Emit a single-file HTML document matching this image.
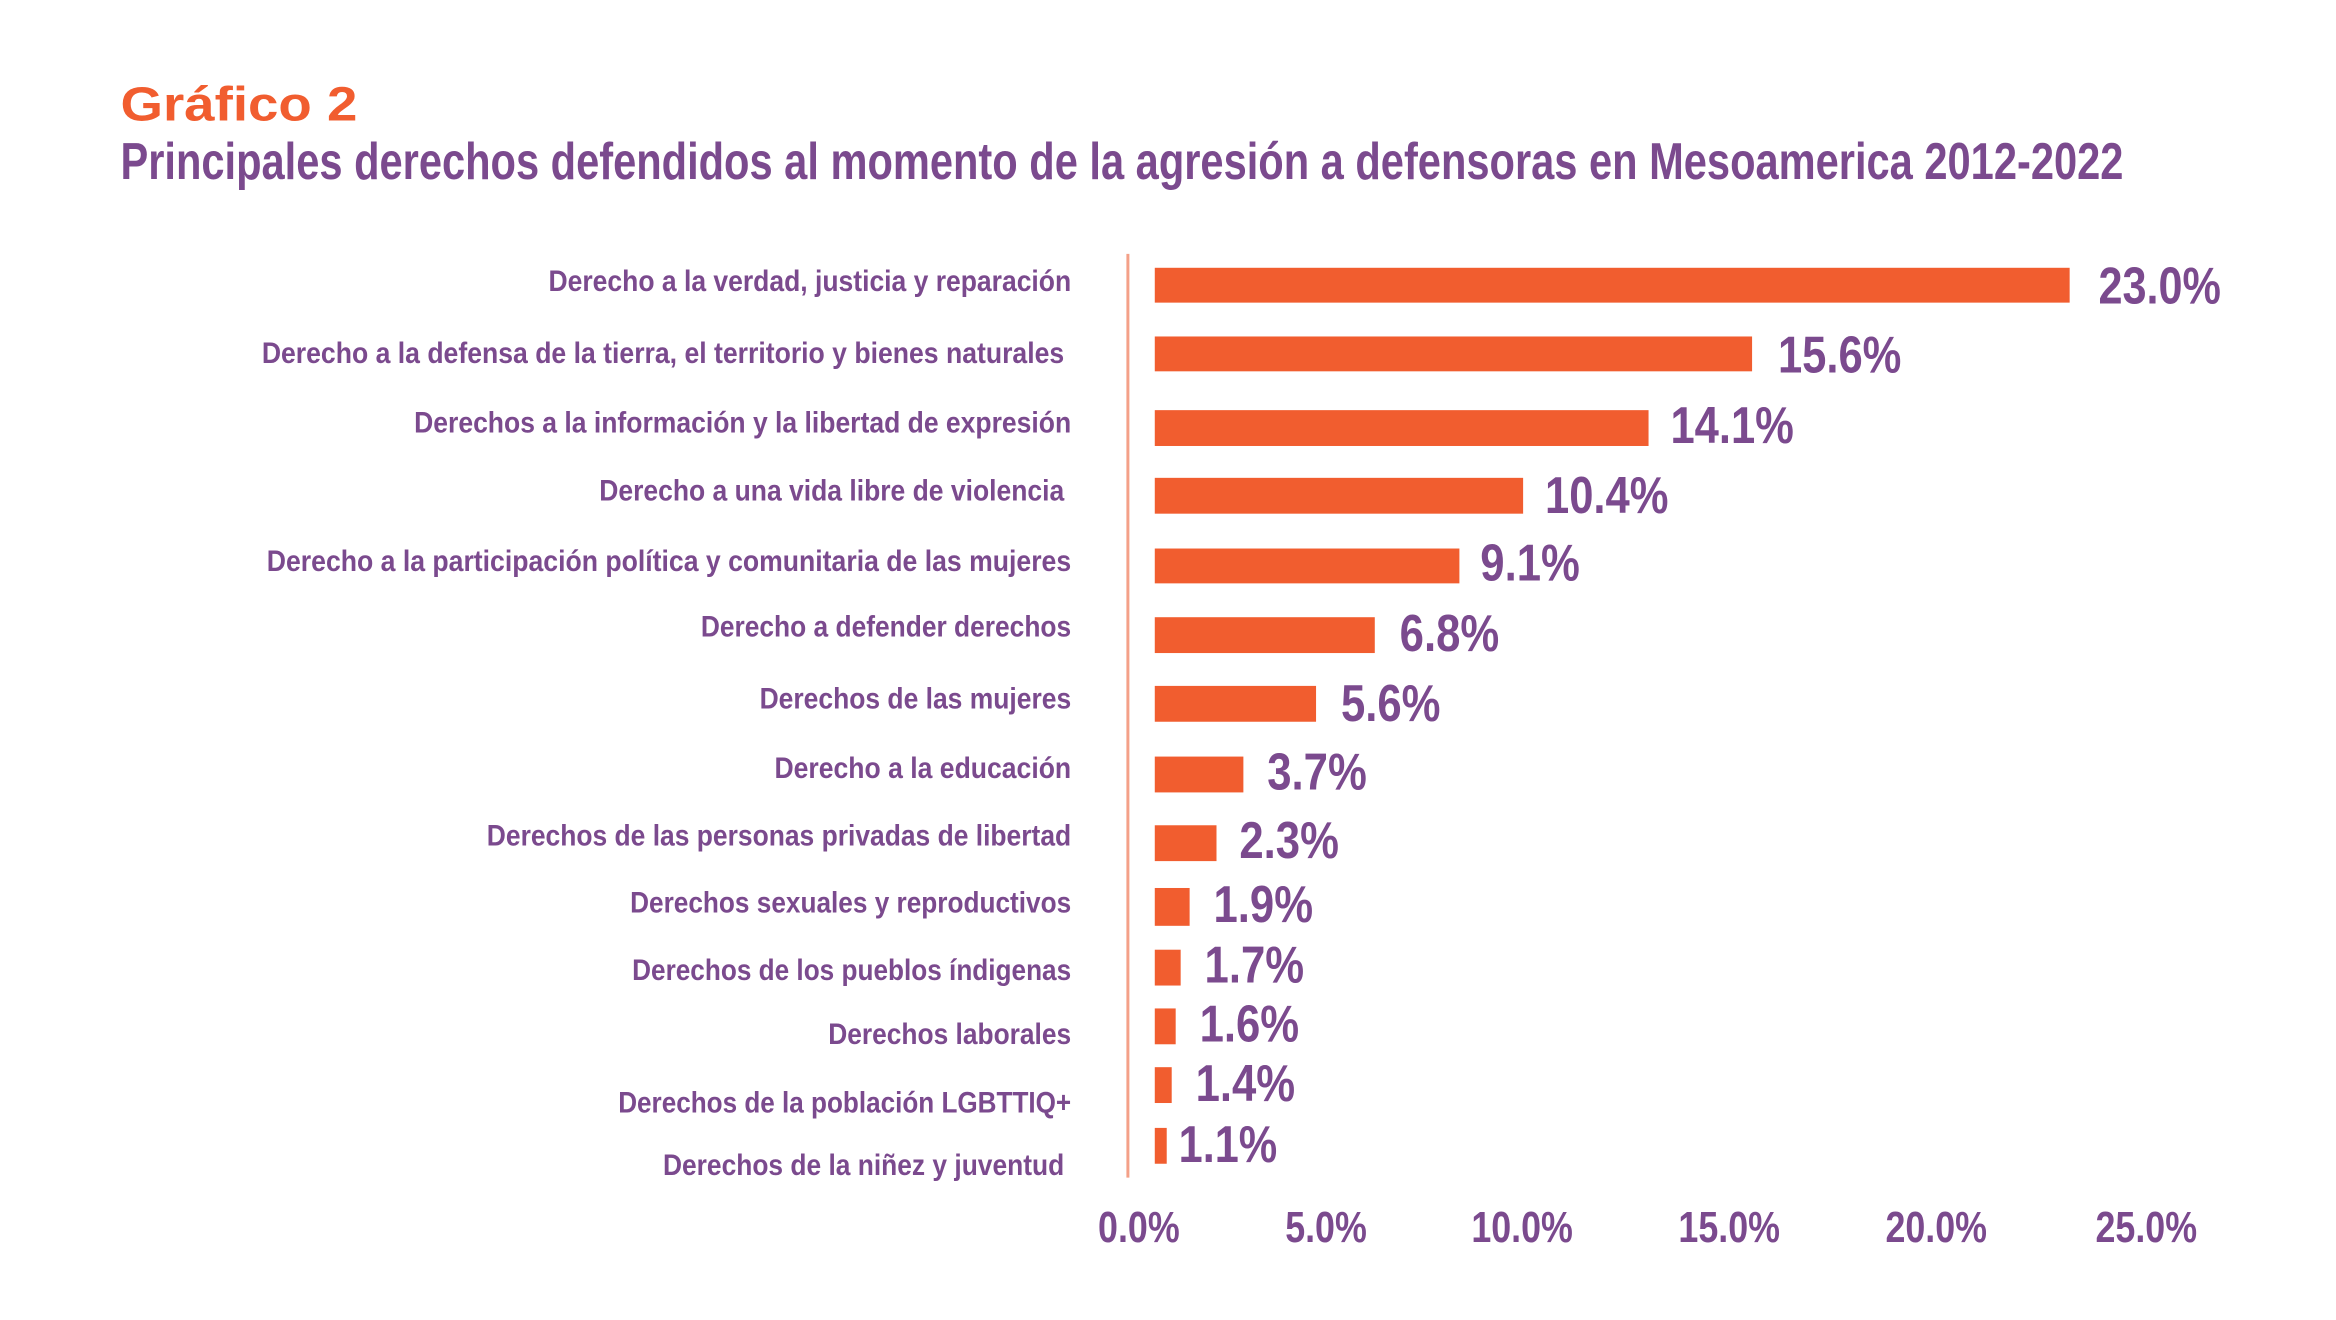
<!DOCTYPE html>
<html><head><meta charset="utf-8"><style>
html,body{margin:0;padding:0;background:#fff;}
svg{display:block;}
text{font-family:"Liberation Sans Narrow","Liberation Sans",sans-serif;font-weight:bold;}
</style></head><body>
<svg width="2336" height="1320" viewBox="0 0 2336 1320" xmlns="http://www.w3.org/2000/svg">
<rect width="2336" height="1320" fill="#fff"/>
<g transform="scale(0.9955)">
<text x="121" y="121" font-size="48" fill="#F15D2F" textLength="238" lengthAdjust="spacingAndGlyphs">Gráfico 2</text>
<text x="121" y="180" font-size="52" fill="#7B4A8E" textLength="2012" lengthAdjust="spacingAndGlyphs">Principales derechos defendidos al momento de la agresión a defensoras en Mesoamerica 2012-2022</text>
<line x1="1133" y1="255" x2="1133" y2="1183" stroke="#F4A088" stroke-width="3"/>
<g fill="#F15D2F">
<rect x="1160" y="269" width="919" height="35"/>
<rect x="1160" y="338" width="600" height="35"/>
<rect x="1160" y="412" width="496" height="36"/>
<rect x="1160" y="480" width="370" height="36"/>
<rect x="1160" y="551" width="306" height="35"/>
<rect x="1160" y="620" width="221" height="36"/>
<rect x="1160" y="689" width="162" height="36"/>
<rect x="1160" y="760" width="89" height="36"/>
<rect x="1160" y="829" width="62" height="36"/>
<rect x="1160" y="892" width="35" height="38"/>
<rect x="1160" y="954" width="26" height="36"/>
<rect x="1160" y="1013" width="21" height="36"/>
<rect x="1160" y="1072" width="17" height="36"/>
<rect x="1160" y="1133" width="12" height="36"/>
</g>
<g fill="#7B4A8E" font-size="30" text-anchor="end" dominant-baseline="central">
<text x="1076" y="283" textLength="525" lengthAdjust="spacingAndGlyphs">Derecho a la verdad, justicia y reparación</text>
<text x="1069" y="355" textLength="806" lengthAdjust="spacingAndGlyphs">Derecho a la defensa de la tierra, el territorio y bienes naturales</text>
<text x="1076" y="425" textLength="660" lengthAdjust="spacingAndGlyphs">Derechos a la información y la libertad de expresión</text>
<text x="1069" y="493" textLength="467" lengthAdjust="spacingAndGlyphs">Derecho a una vida libre de violencia</text>
<text x="1076" y="564" textLength="808" lengthAdjust="spacingAndGlyphs">Derecho a la participación política y comunitaria de las mujeres</text>
<text x="1076" y="630" textLength="372" lengthAdjust="spacingAndGlyphs">Derecho a defender derechos</text>
<text x="1076" y="702" textLength="313" lengthAdjust="spacingAndGlyphs">Derechos de las mujeres</text>
<text x="1076" y="772" textLength="298" lengthAdjust="spacingAndGlyphs">Derecho a la educación</text>
<text x="1076" y="840" textLength="587" lengthAdjust="spacingAndGlyphs">Derechos de las personas privadas de libertad</text>
<text x="1076" y="907" textLength="443" lengthAdjust="spacingAndGlyphs">Derechos sexuales y reproductivos</text>
<text x="1076" y="975" textLength="441" lengthAdjust="spacingAndGlyphs">Derechos de los pueblos índigenas</text>
<text x="1076" y="1039" textLength="244" lengthAdjust="spacingAndGlyphs">Derechos laborales</text>
<text x="1076" y="1108" textLength="455" lengthAdjust="spacingAndGlyphs">Derechos de la población LGBTTIQ+</text>
<text x="1069" y="1171" textLength="403" lengthAdjust="spacingAndGlyphs">Derechos de la niñez y juventud</text>
</g>
<g fill="#7B4A8E" font-size="52" dominant-baseline="central">
<text x="2108" y="287" textLength="123" lengthAdjust="spacingAndGlyphs">23.0%</text>
<text x="1786" y="356" textLength="124" lengthAdjust="spacingAndGlyphs">15.6%</text>
<text x="1678" y="427" textLength="124" lengthAdjust="spacingAndGlyphs">14.1%</text>
<text x="1552" y="497" textLength="124" lengthAdjust="spacingAndGlyphs">10.4%</text>
<text x="1487" y="565" textLength="100" lengthAdjust="spacingAndGlyphs">9.1%</text>
<text x="1406" y="636" textLength="100" lengthAdjust="spacingAndGlyphs">6.8%</text>
<text x="1347" y="706" textLength="100" lengthAdjust="spacingAndGlyphs">5.6%</text>
<text x="1273" y="775" textLength="100" lengthAdjust="spacingAndGlyphs">3.7%</text>
<text x="1245" y="844" textLength="100" lengthAdjust="spacingAndGlyphs">2.3%</text>
<text x="1219" y="908" textLength="100" lengthAdjust="spacingAndGlyphs">1.9%</text>
<text x="1210" y="969" textLength="100" lengthAdjust="spacingAndGlyphs">1.7%</text>
<text x="1205" y="1028" textLength="100" lengthAdjust="spacingAndGlyphs">1.6%</text>
<text x="1201" y="1088" textLength="100" lengthAdjust="spacingAndGlyphs">1.4%</text>
<text x="1184" y="1149" textLength="99" lengthAdjust="spacingAndGlyphs">1.1%</text>
</g>
<g fill="#7B4A8E" font-size="44" text-anchor="middle" dominant-baseline="central">
<text x="1144" y="1233" textLength="82" lengthAdjust="spacingAndGlyphs">0.0%</text>
<text x="1332" y="1233" textLength="82" lengthAdjust="spacingAndGlyphs">5.0%</text>
<text x="1529" y="1233" textLength="102" lengthAdjust="spacingAndGlyphs">10.0%</text>
<text x="1737" y="1233" textLength="102" lengthAdjust="spacingAndGlyphs">15.0%</text>
<text x="1945" y="1233" textLength="102" lengthAdjust="spacingAndGlyphs">20.0%</text>
<text x="2156" y="1233" textLength="102" lengthAdjust="spacingAndGlyphs">25.0%</text>
</g>
</g>
</svg>
</body></html>
